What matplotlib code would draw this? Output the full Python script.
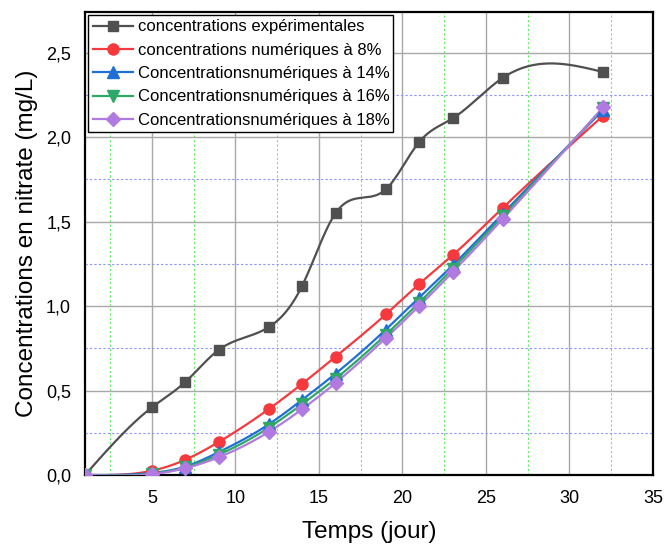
import numpy as np
import matplotlib
matplotlib.use("Agg")
from matplotlib import pyplot as plt
from matplotlib.ticker import MultipleLocator, FuncFormatter

plt.rcParams['font.family'] = ['Liberation Sans', 'DejaVu Sans']

# data
temps = [1, 5, 7, 9, 12, 14, 16, 19, 21, 23, 26, 32]
exp_vals = [0.0, 0.40, 0.55, 0.74, 0.875, 1.12, 1.55, 1.69, 1.97, 2.11, 2.35, 2.385]
num_8 = [0.0, 0.025, 0.09, 0.195, 0.39, 0.54, 0.70, 0.95, 1.13, 1.30, 1.58, 2.125]
num_14 = [0.0, 0.012, 0.05, 0.135, 0.30, 0.445, 0.60, 0.86, 1.05, 1.24, 1.545, 2.16]
num_16 = [0.0, 0.008, 0.045, 0.12, 0.28, 0.42, 0.57, 0.83, 1.02, 1.22, 1.53, 2.17]
num_18 = [0.0, 0.005, 0.04, 0.105, 0.255, 0.39, 0.545, 0.81, 1.00, 1.20, 1.515, 2.175]

labels = ["concentrations expérimentales",
          "concentrations numériques à 8%",
          "Concentrationsnumériques à 14%",
          "Concentrationsnumériques à 16%",
          "Concentrationsnumériques à 18%"]


def spline(x, y, n=400):
    # natural cubic spline, only used to draw the smooth connecting line
    x = np.asarray(x, float)
    y = np.asarray(y, float)
    k = len(x)
    h = np.diff(x)
    A = np.zeros((k, k))
    b = np.zeros(k)
    A[0, 0] = A[-1, -1] = 1
    for i in range(1, k - 1):
        A[i, i - 1] = h[i - 1]
        A[i, i] = 2 * (h[i - 1] + h[i])
        A[i, i + 1] = h[i]
        b[i] = 3 * ((y[i + 1] - y[i]) / h[i] - (y[i] - y[i - 1]) / h[i - 1])
    c = np.linalg.solve(A, b)
    xs = np.linspace(x[0], x[-1], n)
    idx = np.clip(np.searchsorted(x, xs) - 1, 0, k - 2)
    dx = xs - x[idx]
    bb = (y[idx + 1] - y[idx]) / h[idx] - h[idx] * (2 * c[idx] + c[idx + 1]) / 3
    dd = (c[idx + 1] - c[idx]) / (3 * h[idx])
    ys = y[idx] + bb * dx + c[idx] * dx ** 2 + dd * dx ** 3
    return xs, ys


fig = plt.figure(figsize=(6.67, 5.49), dpi=100)
ax = fig.add_axes([85 / 667, 74 / 549, 568 / 667, 463 / 549])

series = [
    (exp_vals, '#505050', 's', 7),
    (num_8, '#f5393d', 'o', 8),
    (num_14, '#1f6fd8', '^', 8),
    (num_16, '#2ea866', 'v', 8),
    (num_18, '#b07ae0', 'D', 7),
]
handles = []
for (vals, col, mk, ms), lab in zip(series, labels):
    xs, ys = spline(temps, vals)
    ax.plot(xs, ys, color=col, lw=1.6, zorder=3)
    ax.plot(temps, vals, ls='none', marker=mk, ms=ms, color=col, zorder=4)
    h, = ax.plot([], [], color=col, lw=1.6, marker=mk, ms=ms)
    handles.append(h)

ax.set_xlim(1, 35)
ax.set_ylim(0, 2.74)
ax.xaxis.set_major_locator(MultipleLocator(5))
ax.xaxis.set_minor_locator(MultipleLocator(2.5))
ax.yaxis.set_major_locator(MultipleLocator(0.5))
ax.yaxis.set_minor_locator(MultipleLocator(0.25))
ax.yaxis.set_major_formatter(FuncFormatter(lambda v, p: f"{v:.1f}".replace('.', ',')))
ax.xaxis.set_major_formatter(FuncFormatter(lambda v, p: f"{v:.0f}"))

ax.grid(which='major', color='#a8a8a8', lw=1.0, ls='-', zorder=1)
ax.grid(which='minor', axis='x', color='#66ee66', lw=0.8, ls=(0, (2, 2)), zorder=1)
ax.grid(which='minor', axis='y', color='#9090ff', lw=0.8, ls=(0, (2, 2)), zorder=1)
ax.tick_params(which='both', length=0, labelsize=13)
ax.tick_params(axis='x', pad=11)
ax.tick_params(axis='y', pad=10)

for sp in ax.spines.values():
    sp.set_linewidth(1.6)
    sp.set_color('black')

ax.set_xlabel("Temps (jour)", fontsize=17.5, labelpad=10)
ax.set_ylabel("Concentrations en nitrate (mg/L)", fontsize=17.5, labelpad=6)

leg = ax.legend(handles, labels, loc='upper left', fontsize=12, frameon=True,
                fancybox=False, edgecolor='black', framealpha=1,
                handlelength=2.4, borderpad=0.25, labelspacing=0.5,
                handletextpad=0.3, borderaxespad=0.2)
leg.get_frame().set_linewidth(1.0)

fig.savefig("out.png", dpi=100)
